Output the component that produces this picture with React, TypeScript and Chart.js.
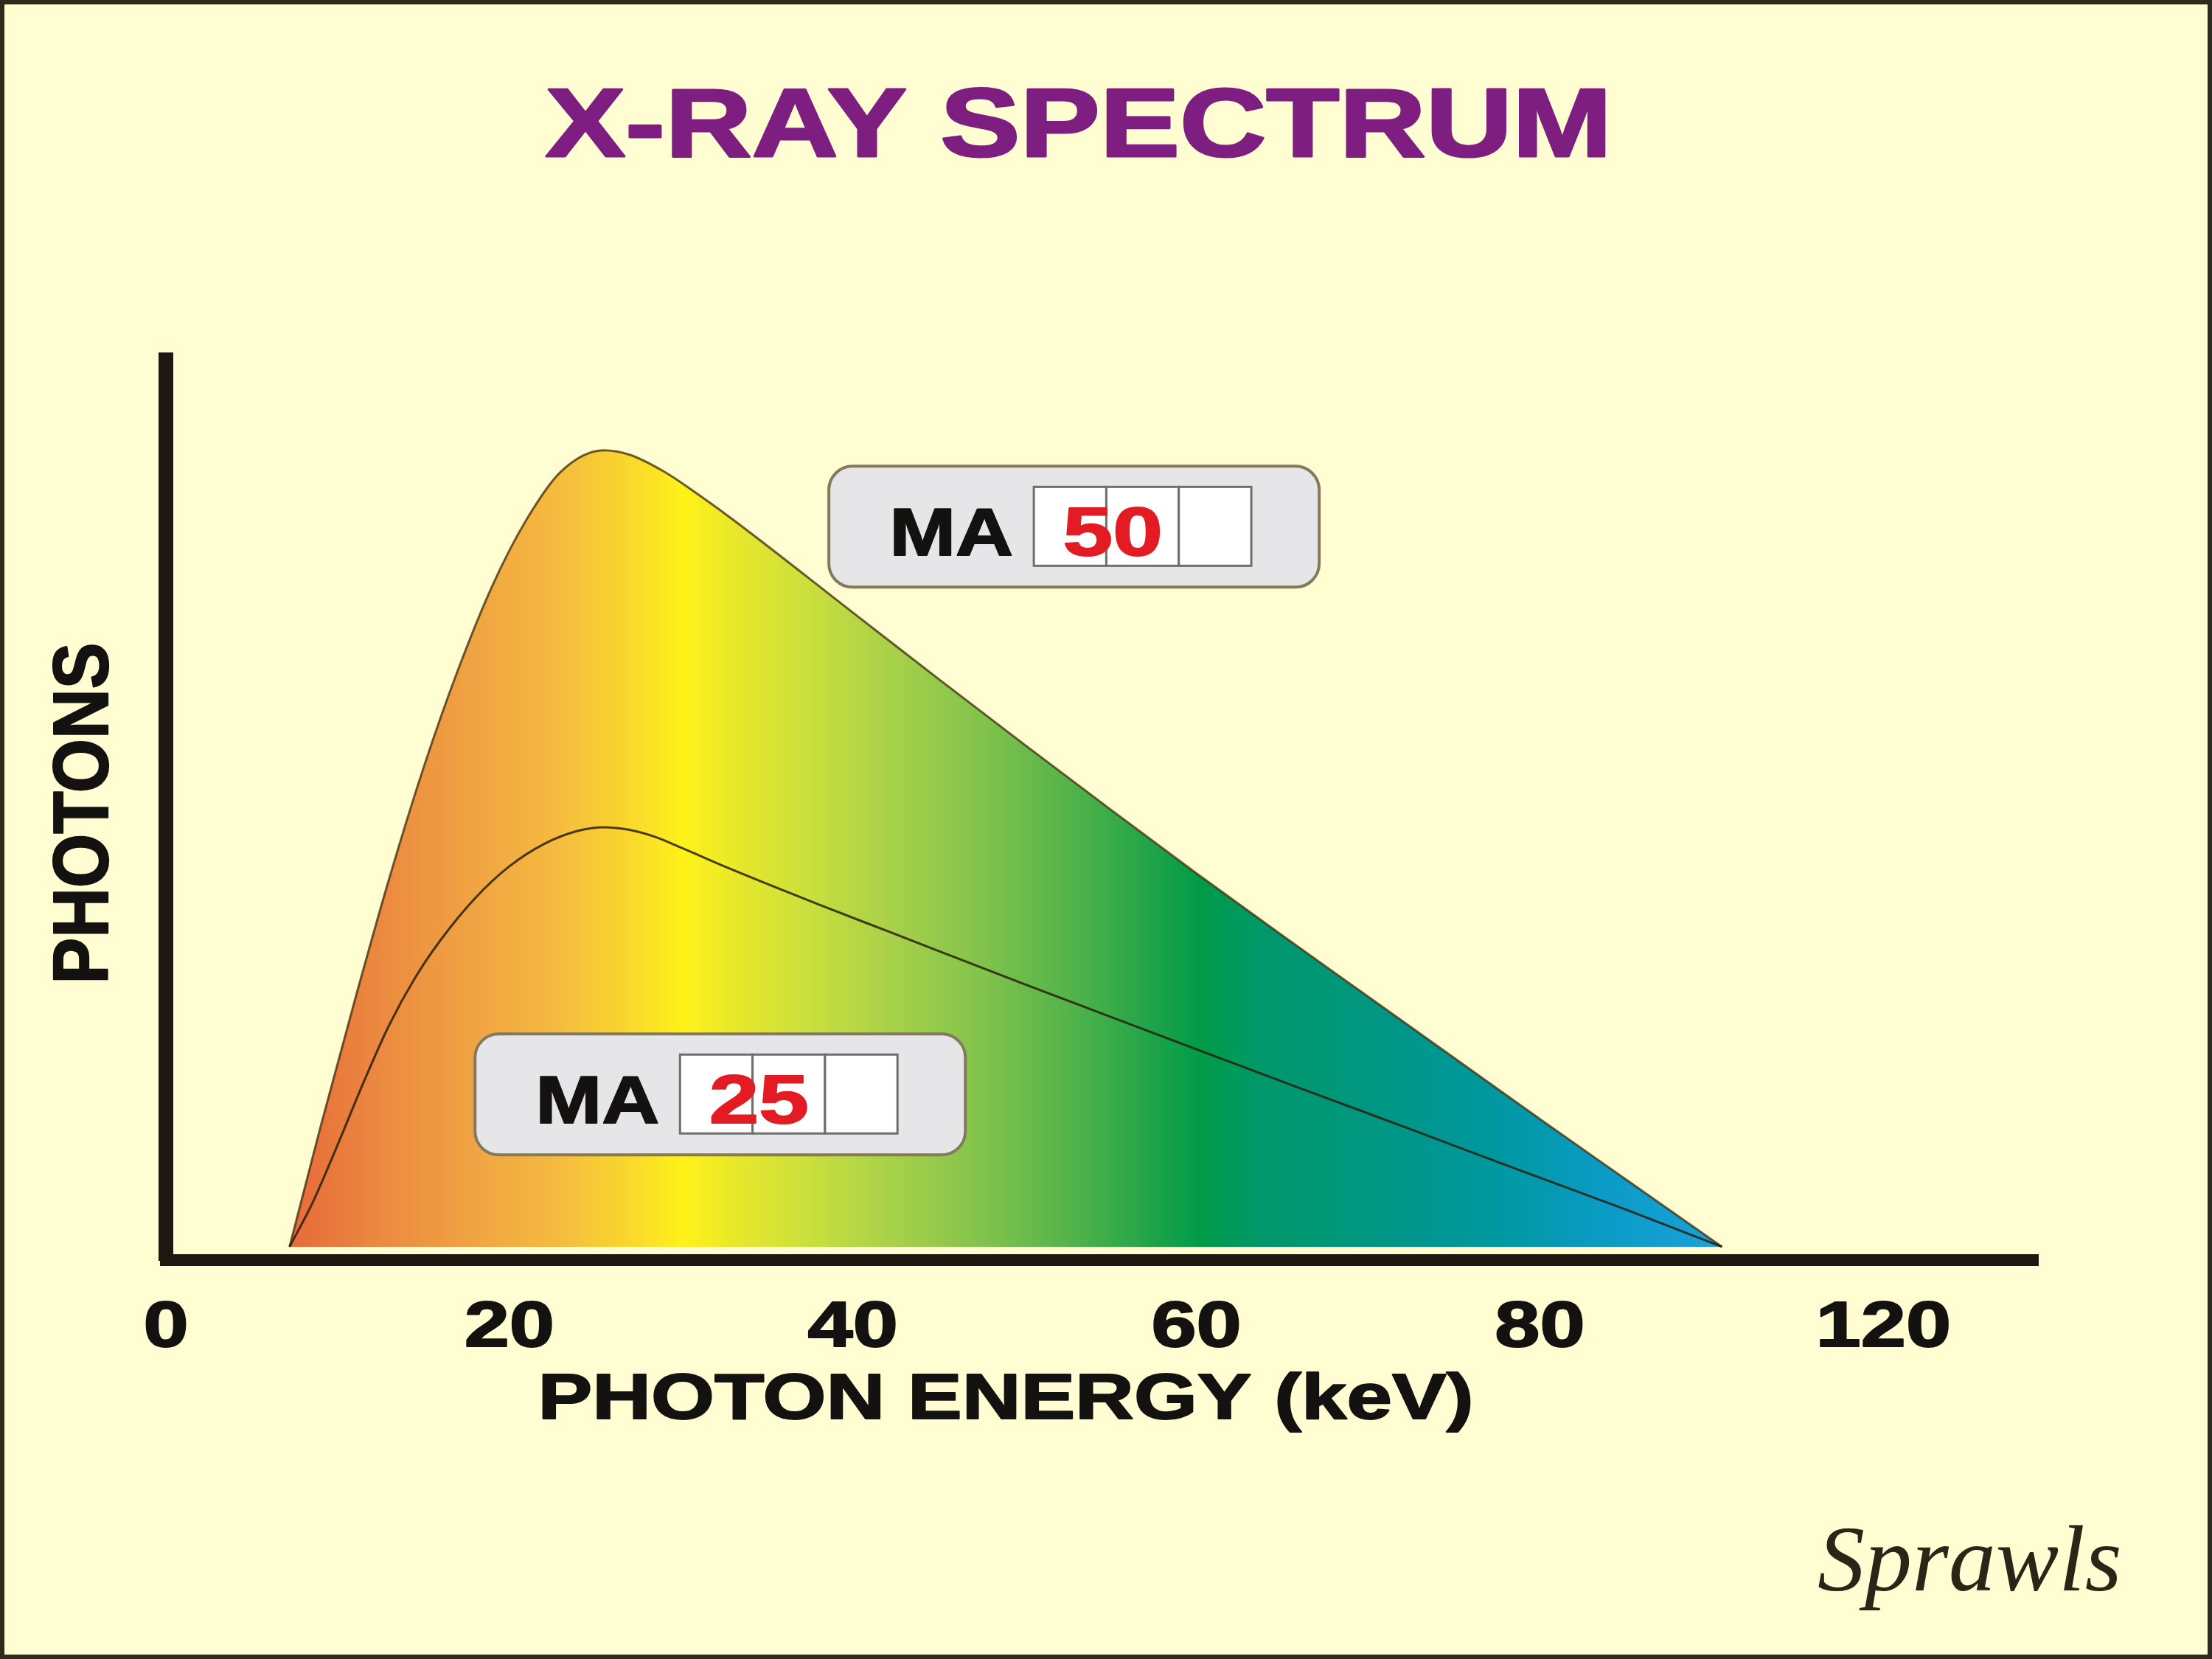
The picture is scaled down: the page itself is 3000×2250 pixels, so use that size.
import React, { useEffect, useRef } from 'react';
import { Chart, registerables } from 'chart.js';

Chart.register(...registerables);

// ---- data ----
const energy50 = [7.2, 9, 11, 13, 15, 17, 19, 21, 23, 25.5, 27, 29, 31, 33, 40, 45, 50, 55, 60, 65, 70, 75, 80, 85, 90.6];
const photons50 = [0, 13.5, 27.8, 41.5, 54.0, 65.0, 74.5, 82.0, 87.4, 89.8, 89.3, 87.4, 84.8, 82.0, 71.5, 64.0, 56.6, 49.3, 42.1, 35.1, 28.2, 21.3, 14.4, 7.6, 0];

const energy25 = [7.2, 8.5, 10, 11.5, 13, 14.5, 16, 18, 20, 22, 24, 25.5, 27, 28.5, 30, 33, 38, 42, 50, 59, 66, 72, 79, 85, 90.6];
const photons25 = [0, 4.8, 11.5, 18.5, 25.0, 30.3, 34.6, 39.3, 42.9, 45.4, 46.9, 47.3, 47.0, 46.2, 45.0, 42.5, 38.6, 35.6, 29.6, 23.0, 17.9, 13.6, 8.5, 4.2, 0];

const tickValues = [0, 20, 40, 60, 80, 100];
const tickLabels = ['0', '20', '40', '60', '80', '120'];

const maValues = ['50', '25'];

const chartTitle = 'X-RAY SPECTRUM';
const xAxisTitle = 'PHOTON ENERGY (keV)';
const yAxisTitle = 'PHOTONS';
const signature = 'Sprawls';

// ---- annotation placement (data units, top-left corner of each MA box) ----
const maBoxEnergy = [38.6, 18.0];
const maBoxPhotons = [88.0, 24.0];

// ---- styles ----
const BG = '#FFFDD1';
const FRAME = '#2E2A1C';
const INK = '#141210';
const PURPLE = '#7D1E80';
const RED = '#E31B23';
const SANS = '"Liberation Sans", Arial, sans-serif';
const gradientStops: [number, string][] = [
  [0.0, '#E76A3A'],
  [0.06, '#EB8840'],
  [0.125, '#F0A243'],
  [0.19, '#F5BC3E'],
  [0.243, '#FADB2A'],
  [0.275, '#FFF21A'],
  [0.32, '#E3E62E'],
  [0.36, '#CBE03C'],
  [0.42, '#A8D14A'],
  [0.486, '#80C24C'],
  [0.55, '#4FB24A'],
  [0.636, '#009B48'],
  [0.68, '#00986A'],
  [0.78, '#00968A'],
  [0.84, '#0098A0'],
  [0.92, '#0B9BC6'],
  [1.0, '#1AA2DC'],
];

function drawStretched(
  ctx: CanvasRenderingContext2D,
  text: string,
  x: number,
  baseline: number,
  font: string,
  color: string,
  sx: number,
  align: CanvasTextAlign,
  heavy = 0
) {
  ctx.save();
  ctx.translate(x, baseline);
  ctx.scale(sx, 1);
  ctx.font = font;
  ctx.fillStyle = color;
  ctx.textAlign = align;
  ctx.textBaseline = 'alphabetic';
  ctx.fillText(text, 0, 0);
  if (heavy > 0) {
    ctx.lineWidth = heavy;
    ctx.lineJoin = 'round';
    ctx.miterLimit = 2;
    ctx.strokeStyle = color;
    ctx.strokeText(text, 0, 0);
  }
  ctx.restore();
}

function drawMaBox(ctx: CanvasRenderingContext2D, px: number, py: number, value: string) {
  const W = 665, H = 164, R = 32;
  ctx.save();
  ctx.beginPath();
  ctx.roundRect(px, py, W, H, R);
  ctx.fillStyle = '#E6E6E9';
  ctx.fill();
  ctx.lineWidth = 4;
  ctx.strokeStyle = '#85795C';
  ctx.stroke();
  const cellW = 98.3, cellH = 107, cx0 = px + 278, cy0 = py + 28;
  for (let i = 0; i < 3; i++) {
    ctx.fillStyle = '#FFFFFF';
    ctx.fillRect(cx0 + i * cellW, cy0, cellW, cellH);
    ctx.lineWidth = 3;
    ctx.strokeStyle = '#6E6E6E';
    ctx.strokeRect(cx0 + i * cellW, cy0, cellW, cellH);
  }
  ctx.restore();
  drawStretched(ctx, 'MA', px + 82, py + 121, `bold 90px ${SANS}`, INK, 1.2, 'left', 2);
  drawStretched(ctx, value, px + 385, py + 121, `bold 92px ${SANS}`, RED, 1.32, 'center', 2);
}

const decorPlugin = {
  id: 'decor',
  beforeDraw(chart: any) {
    const { ctx, width, height } = chart;
    ctx.save();
    ctx.fillStyle = BG;
    ctx.fillRect(0, 0, width, height);
    ctx.lineWidth = 12;
    ctx.strokeStyle = FRAME;
    ctx.strokeRect(0, 0, width, height);
    ctx.restore();
  },
  afterDraw(chart: any) {
    const { ctx } = chart;
    const xs = chart.scales.x;
    const ys = chart.scales.y;

    drawStretched(ctx, chartTitle, 1463, 212, `bold 132px ${SANS}`, PURPLE, 1.23, 'center', 3);

    tickValues.forEach((v, i) => {
      drawStretched(ctx, tickLabels[i], xs.getPixelForValue(v), 1826, `bold 88px ${SANS}`, INK, 1.25, 'center', 2);
    });

    drawStretched(ctx, xAxisTitle, 1364, 1924, `bold 87px ${SANS}`, INK, 1.27, 'center', 2);

    ctx.save();
    ctx.translate(146, 1103);
    ctx.scale(1.13, 1);
    ctx.rotate(-Math.PI / 2);
    ctx.font = `bold 94px ${SANS}`;
    ctx.fillStyle = INK;
    ctx.textAlign = 'center';
    ctx.textBaseline = 'alphabetic';
    ctx.fillText(yAxisTitle, 0, 0);
    ctx.lineWidth = 2;
    ctx.lineJoin = 'round';
    ctx.strokeStyle = INK;
    ctx.strokeText(yAxisTitle, 0, 0);
    ctx.restore();

    maValues.forEach((val, i) => {
      drawMaBox(ctx, xs.getPixelForValue(maBoxEnergy[i]), ys.getPixelForValue(maBoxPhotons[i]), val);
    });

    ctx.save();
    ctx.font = 'italic 128px "Liberation Serif", serif';
    ctx.fillStyle = '#2B2517';
    ctx.textAlign = 'left';
    ctx.textBaseline = 'alphabetic';
    ctx.fillText(signature, 2465, 2157);
    ctx.restore();
  },
};

export default function App() {
  const canvasRef = useRef<HTMLCanvasElement | null>(null);

  useEffect(() => {
    const canvas = canvasRef.current;
    if (!canvas) return;

    const spectrumFill = (c: any) => {
      const chart = c.chart;
      if (!chart.chartArea) return 'rgba(0,0,0,0)';
      const xs = chart.scales.x;
      const g = chart.ctx.createLinearGradient(
        xs.getPixelForValue(energy50[0]), 0,
        xs.getPixelForValue(energy50[energy50.length - 1]), 0
      );
      gradientStops.forEach(([o, col]) => g.addColorStop(o, col));
      return g;
    };

    const chart = new Chart(canvas, {
      type: 'line',
      data: {
        datasets: [
          {
            label: 'MA 25',
            data: energy25.map((x, i) => ({ x, y: photons25[i] })),
            borderColor: 'rgba(40,32,12,0.85)',
            borderWidth: 3,
            fill: false,
            cubicInterpolationMode: 'monotone',
            pointRadius: 0,
          },
          {
            label: 'MA 50',
            data: energy50.map((x, i) => ({ x, y: photons50[i] })),
            borderColor: 'rgba(70,52,18,0.8)',
            borderWidth: 3,
            backgroundColor: spectrumFill,
            fill: 'origin',
            cubicInterpolationMode: 'monotone',
            pointRadius: 0,
          },
        ],
      },
      options: {
        responsive: false,
        devicePixelRatio: 1,
        animation: false,
        layout: { padding: { left: 225, top: 488, right: 236, bottom: 541 } },
        plugins: {
          legend: { display: false },
          title: { display: false },
          tooltip: { enabled: false },
        },
        scales: {
          x: {
            type: 'linear',
            min: 0,
            max: 109,
            grid: { display: false, drawTicks: false },
            ticks: { display: false },
            border: { display: true, width: 16, color: '#1C1710' },
          },
          y: {
            type: 'linear',
            min: -1.5,
            max: 100,
            grid: { display: false, drawTicks: false },
            ticks: { display: false },
            border: { display: true, width: 20, color: '#1C1710' },
          },
        },
      },
      plugins: [decorPlugin],
    } as any);

    return () => chart.destroy();
  }, []);

  return (
    <div style={{ position: 'absolute', left: 0, top: 0, width: 3000, height: 2250 }}>
      <canvas ref={canvasRef} width={3000} height={2250} style={{ display: 'block', width: 3000, height: 2250 }} />
    </div>
  );
}
